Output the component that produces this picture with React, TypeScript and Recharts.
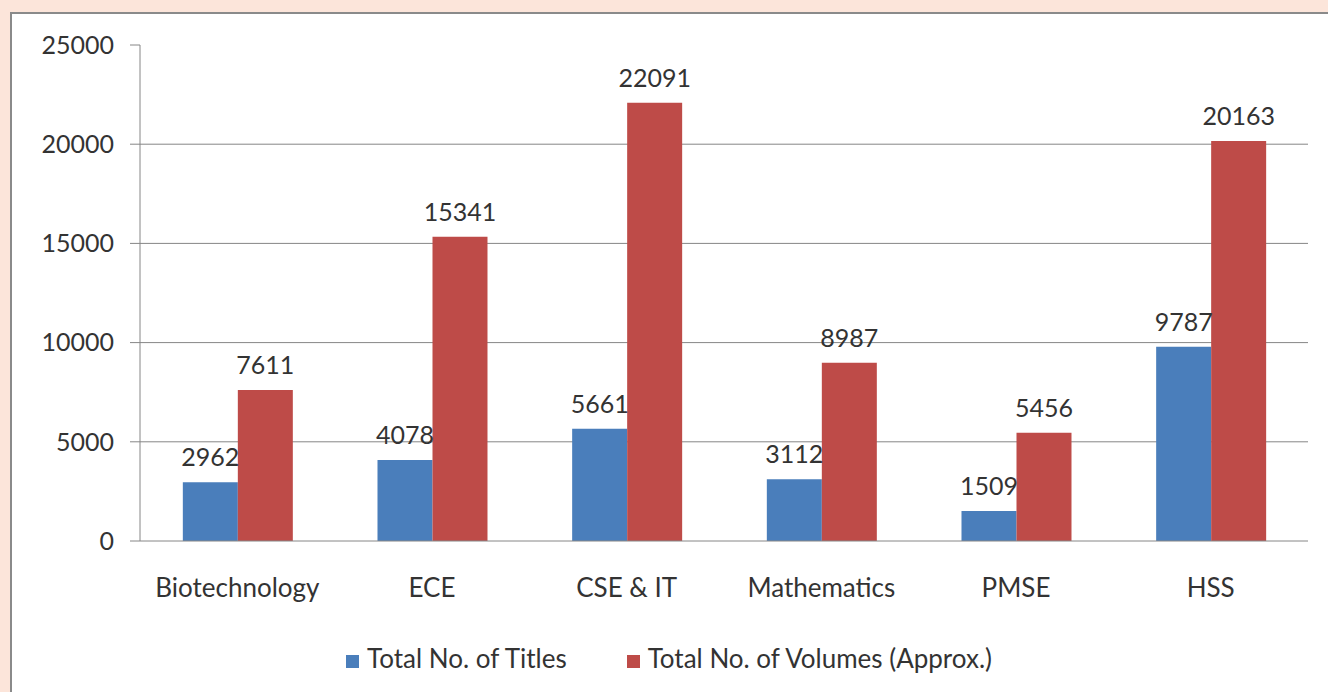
import React from 'react';
import { BarChart, Bar, XAxis, YAxis, CartesianGrid, Legend, LabelList } from 'recharts';

const departments = ['Biotechnology', 'ECE', 'CSE & IT', 'Mathematics', 'PMSE', 'HSS'];
const titles = [2962, 4078, 5661, 3112, 1509, 9787];
const volumes = [7611, 15341, 22091, 8987, 5456, 20163];
const yTicks = [0, 5000, 10000, 15000, 20000, 25000];

const data = departments.map((name, i) => ({
  name,
  titles: titles[i],
  volumes: volumes[i],
}));

const FONT = 'Lato, "Open Sans", sans-serif';
const AXIS = '#868686';
const TEXT = '#333333';

export default function App() {
  return (
    <div style={{ position: 'fixed', left: 0, top: 0, width: 1328, height: 692, background: '#fce5da', overflow: 'hidden' }}>
      <div
        style={{
          position: 'absolute',
          left: 10,
          top: 12,
          width: 1340,
          height: 700,
          background: '#ffffff',
          borderTop: '2px solid #8a8a8a',
          borderLeft: '2px solid #8a8a8a',
        }}
      />
      <div style={{ position: 'absolute', left: 0, top: 0 }}>
        <BarChart
          width={1328}
          height={692}
          data={data}
          margin={{ top: 45, right: 20, left: 40, bottom: 59 }}
          barCategoryGap="22%"
          barGap={0}
          style={{ fontFamily: FONT }}
        >
          <CartesianGrid vertical={false} stroke={AXIS} horizontalValues={[5000, 10000, 15000, 20000]} />
          <XAxis
            dataKey="name"
            axisLine={{ stroke: AXIS }}
            tickLine={false}
            tickSize={8}
            tickMargin={30}
            height={60}
            tick={{ fill: TEXT, fontSize: 26 }}
          />
          <YAxis
            domain={[0, 25000]}
            ticks={yTicks}
            width={100}
            axisLine={{ stroke: AXIS }}
            tickLine={{ stroke: AXIS }}
            tickSize={10}
            tickMargin={16}
            tick={{ fill: TEXT, fontSize: 25 }}
          />
          <Legend
            iconType="square"
            iconSize={13}
            wrapperStyle={{ fontSize: 26, color: TEXT, bottom: 18 }}
            formatter={(value, _entry, index) => (
              <span style={{ color: TEXT, marginLeft: 4, marginRight: index === 0 ? 50 : 0 }}>{value}</span>
            )}
          />
          <Bar dataKey="titles" name="Total No. of Titles" fill="#4a7ebb" isAnimationActive={false}>
            <LabelList dataKey="titles" position="top" offset={16} fill={TEXT} fontSize={25} />
          </Bar>
          <Bar dataKey="volumes" name="Total No. of Volumes (Approx.)" fill="#be4b48" isAnimationActive={false}>
            <LabelList dataKey="volumes" position="top" offset={16} fill={TEXT} fontSize={25} />
          </Bar>
        </BarChart>
      </div>
    </div>
  );
}
